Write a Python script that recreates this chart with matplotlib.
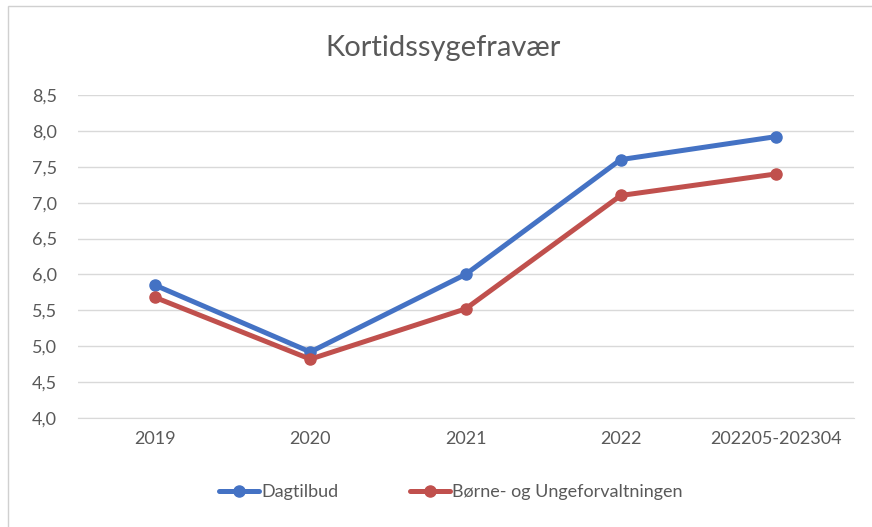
import matplotlib
matplotlib.use("Agg")
import matplotlib.pyplot as plt
from matplotlib.patches import Rectangle
from matplotlib.ticker import FuncFormatter, MultipleLocator

categories = ["2019", "2020", "2021", "2022", "202205-202304"]
dagtilbud = [5.85, 4.92, 6.0, 7.6, 7.92]
boerne = [5.68, 4.82, 5.52, 7.1, 7.4]
series_names = ["Dagtilbud", "Børne- og Ungeforvaltningen"]

plt.rcParams['font.family'] = ['Lato', 'DejaVu Sans']
txt = "#595959"

fig = plt.figure(figsize=(8.72, 5.27), dpi=100)
fig.patch.set_facecolor("white")
fig.patches.append(Rectangle((8/872, -0.1), 1.0, (527-6)/527 + 0.1, transform=fig.transFigure,
                             fill=False, edgecolor="#d0d0d0", linewidth=1.0))

ax = fig.add_axes([77.5/872, (527-418)/527, (853.5-77.5)/872, (418-95)/527])
x = list(range(len(categories)))
ax.plot(x, dagtilbud, color="#4472C4", lw=3.6, marker="o", ms=8, label=series_names[0], solid_capstyle="round")
ax.plot(x, boerne, color="#C0504D", lw=3.6, marker="o", ms=8, label=series_names[1], solid_capstyle="round")

ax.set_xlim(-0.5, len(categories) - 0.5)
ax.set_ylim(4.0, 8.5)
ax.yaxis.set_major_locator(MultipleLocator(0.5))
ax.yaxis.set_major_formatter(FuncFormatter(lambda v, p: f"{v:.1f}".replace(".", ",")))
ax.set_xticks(x)
ax.set_xticklabels(categories)
ax.grid(axis="y", color="#d9d9d9", lw=1)
ax.set_axisbelow(True)
for s in ["top", "right", "left"]:
    ax.spines[s].set_visible(False)
ax.spines["bottom"].set_color("#d9d9d9")
ax.tick_params(axis="both", length=0, colors=txt, labelsize=13)
ax.tick_params(axis="y", pad=15)
ax.tick_params(axis="x", pad=9)

fig.text(0.508, (527-48)/527, "Kortidssygefravær", ha="center", va="center", fontsize=21, color=txt)

fig.legend(loc="center", bbox_to_anchor=(0.517, (527-492)/527), ncol=2, frameon=False,
           fontsize=13, labelcolor=txt, handlelength=2.2, columnspacing=4.0, handletextpad=0.1)

fig.savefig("out.png", dpi=100)
